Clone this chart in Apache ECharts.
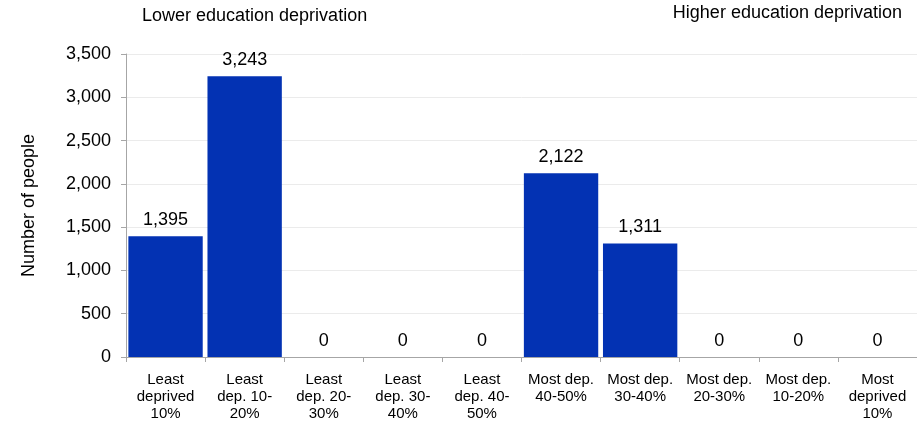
<!DOCTYPE html>
<html><head><meta charset="utf-8">
<script src="https://cdn.jsdelivr.net/npm/echarts@6/dist/echarts.min.js"></script>
<style>html,body{margin:0;padding:0;background:#fff}#c{width:917px;height:425px}</style>
</head><body><div id="c"></div>
<script>
const categories = ["Least\ndeprived\n10%","Least\ndep. 10-\n20%","Least\ndep. 20-\n30%","Least\ndep. 30-\n40%","Least\ndep. 40-\n50%","Most dep.\n40-50%","Most dep.\n30-40%","Most dep.\n20-30%","Most dep.\n10-20%","Most\ndeprived\n10%"];
const values = [1395,3243,0,0,0,2122,1311,0,0,0];
const yTicks = [0,500,1000,1500,2000,2500,3000,3500];
const font = "Liberation Sans, Arial, sans-serif";
const chart = echarts.init(document.getElementById('c'), null, {renderer:'canvas'});
chart.setOption({
  animation:false,
  textStyle:{fontFamily:font},
  title:[
    {text:"Lower education deprivation", left:137, top:2, textStyle:{fontFamily:font,fontSize:18,fontWeight:'normal',color:'#000'}},
    {text:"Higher education deprivation", right:10, top:-1, textStyle:{fontFamily:font,fontSize:18,fontWeight:'normal',color:'#000'}}
  ],
  grid:{left:126,right:0,top:54,bottom:68},
  xAxis:{type:'category',data:categories,
    axisLine:{lineStyle:{color:'#a6a6a6'}},
    axisTick:{show:true,length:5,lineStyle:{color:'#a6a6a6'}},
    axisLabel:{color:'#000',fontSize:15,lineHeight:17,margin:14,interval:0,fontFamily:font}
  },
  yAxis:{type:'value',min:yTicks[0],max:yTicks[yTicks.length-1],interval:500,
    name:"Number of people",nameLocation:'middle',nameGap:88,nameRotate:90,
    nameTextStyle:{color:'#000',fontSize:18,fontFamily:font},
    axisLine:{show:true,lineStyle:{color:'#a6a6a6'}},
    axisTick:{show:true,length:5,lineStyle:{color:'#a6a6a6'}},
    splitLine:{lineStyle:{color:'#ebebeb'}},
    axisLabel:{color:'#000',fontSize:18,margin:15,fontFamily:font,
      formatter:v=>v.toLocaleString('en-US')}
  },
  series:[{type:'bar',data:values,barCategoryGap:'6%',
    itemStyle:{color:'#0332b3'},
    label:{show:true,position:'top',distance:7,color:'#000',fontSize:18,fontFamily:font,
      formatter:p=>p.value.toLocaleString('en-US')}
  }]
});
</script></body></html>
